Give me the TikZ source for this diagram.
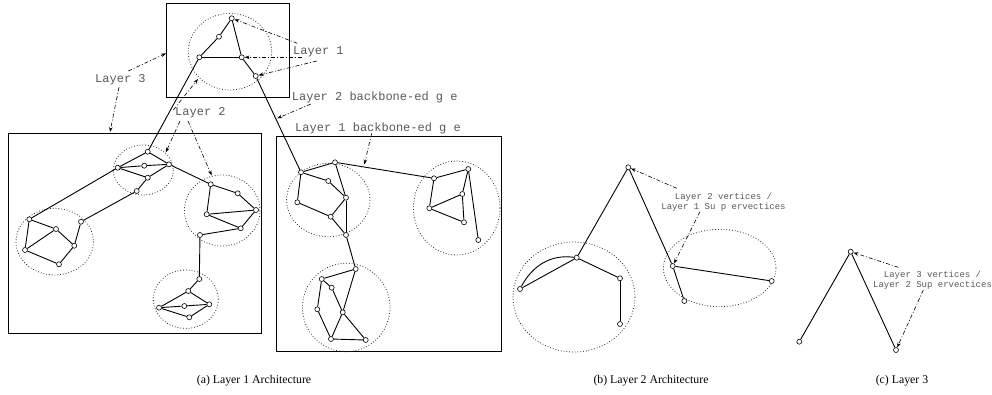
\documentclass[tikz,border=0pt]{standalone}
\usepackage{fontspec}
\setmainfont{Liberation Serif}
\setmonofont{Liberation Mono}
\usetikzlibrary{arrows.meta}
\begin{document}
\begin{tikzpicture}[x=1pt,y=-1pt,
  v/.style={circle,draw,fill=white,inner sep=0pt,minimum size=5pt,line width=0.6pt},
  e/.style={line width=0.9pt},
  hull/.style={draw=black!85,dotted,line width=0.8pt},
  frame/.style={draw,line width=0.8pt},
  note/.style={-{Stealth[length=5pt,width=3.5pt]},line width=0.6pt,
    dash pattern=on 4pt off 2pt on 1pt off 2pt},
  lbl/.style={font=\ttfamily\fontsize{12}{13}\selectfont,text=black!65,inner sep=0pt,anchor=west},
  vlbl/.style={font=\ttfamily\fontsize{9}{9.6}\selectfont,text=black!65,inner sep=0pt,align=center},
  captext/.style={font=\fontsize{11.8}{13}\selectfont,inner sep=0pt}]
\useasboundingbox (0,0) rectangle (992,394);

% ---------- frames ----------
\draw[frame] (166.7,3.3) rectangle (289.3,97.3);
\draw[frame] (8.3,133.3) rectangle (261.7,333.3);
\draw[frame] (276.7,136.7) rectangle (501.7,351.7);

% ---------- cluster hulls ----------
\draw[hull] (230,51.7) ellipse [x radius=41.7, y radius=38.3];
\draw[hull] (143.3,170) ellipse [x radius=30, y radius=25];
\draw[hull] (54.7,241.7) ellipse [x radius=38.7, y radius=33.3];
\draw[hull] (222.2,210.5) ellipse [x radius=37.8, y radius=35.5];
\draw[hull] (185.8,299.2) ellipse [x radius=32.5, y radius=29.2];
\draw[hull] (328.3,200) ellipse [x radius=41.7, y radius=36.7];
\draw[hull] (456.7,208) ellipse [x radius=43.3, y radius=47];
\draw[hull] (346.2,307.5) ellipse [x radius=43.8, y radius=44.2];
\draw[hull] (574,297) ellipse [x radius=61, y radius=55];
\draw[hull] (719.7,268) ellipse [x radius=56.3, y radius=38.7];

% ---------- top (layer 3 supervertex) ----------
\node[v] (t1) at (231.7,18.3) {};
\node[v] (t2) at (219,36.7) {};
\node[v] (t3) at (199.3,57.3) {};
\node[v] (t4) at (241.7,57.3) {};
\node[v] (t5) at (255.7,76) {};

% ---------- left frame ----------
\node[v] (p1) at (147.7,151.7) {};
\node[v] (p2) at (117.7,167.7) {};
\node[v] (p3) at (144.3,165.7) {};
\node[v] (p4) at (169,164.3) {};
\node[v] (p5) at (147.7,177.7) {};
\node[v] (p6) at (136.7,191) {};

\node[v] (q1) at (29.3,219.3) {};
\node[v] (q2) at (56,229) {};
\node[v] (q3) at (81,221.7) {};
\node[v] (q4) at (74.3,245.7) {};
\node[v] (q5) at (25,250) {};
\node[v] (q6) at (59,264.3) {};

\node[v] (r1) at (210.7,184.3) {};
\node[v] (r2) at (237.7,193.3) {};
\node[v] (r3) at (256,210) {};
\node[v] (r4) at (206.7,214.3) {};
\node[v] (r5) at (240.7,228.3) {};
\node[v] (r6) at (200,235) {};

\node[v] (s1) at (199.3,279) {};
\node[v] (s2) at (188.3,291) {};
\node[v] (s3) at (159,307.7) {};
\node[v] (s4) at (184.3,306) {};
\node[v] (s5) at (209.3,304.3) {};
\node[v] (s6) at (189.3,317.3) {};

% ---------- right frame ----------
\node[v] (a1) at (301,172.3) {};
\node[v] (a2) at (335,162.3) {};
\node[v] (a3) at (328.3,181) {};
\node[v] (a4) at (346,197.7) {};
\node[v] (a5) at (297.3,202.3) {};
\node[v] (a6) at (330.7,216.7) {};
\node[v] (a7) at (346,235) {};

\node[v] (b1) at (434,178.3) {};
\node[v] (b2) at (468.3,169) {};
\node[v] (b3) at (462.3,194) {};
\node[v] (b4) at (429.3,208.3) {};
\node[v] (b5) at (464,222.3) {};
\node[v] (b6) at (478.3,240) {};

\node[v] (c1) at (355.7,269) {};
\node[v] (c2) at (321.7,279) {};
\node[v] (c3) at (331.7,287.7) {};
\node[v] (c4) at (317.3,309.3) {};
\node[v] (c5) at (342.7,312.3) {};
\node[v] (c6) at (331,339) {};
\node[v] (c7) at (365.7,340) {};

% ---------- layer 2 ----------
\node[v] (m0) at (628.3,167.3) {};
\node[v] (m1) at (576.7,257.7) {};
\node[v] (m2) at (520,289) {};
\node[v] (m3) at (620,278.3) {};
\node[v] (m4) at (620,324) {};
\node[v] (n1) at (672.7,266) {};
\node[v] (n2) at (771.7,281) {};
\node[v] (n3) at (684.3,301) {};

% ---------- layer 3 ----------
\node[v] (k0) at (850.7,251.7) {};
\node[v] (k1) at (799.3,341.7) {};
\node[v] (k2) at (896,350) {};

% ---------- edges ----------
\foreach \a/\b in {t1/t2,t2/t3,t3/t4,t1/t4,t4/t5,t3/p1,t5/a1,
  p1/p2,p1/p4,p2/p3,p3/p4,p2/p5,p5/p4,p5/p6,p2/q1,p6/q3,p4/r1,
  q1/q2,q1/q5,q5/q2,q2/q4,q3/q4,q4/q6,q5/q6,
  r1/r2,r2/r3,r1/r4,r4/r3,r4/r5,r5/r3,r6/r5,r6/s1,
  s1/s2,s2/s3,s2/s5,s3/s4,s4/s5,s3/s6,s6/s5,
  a1/a2,a1/a3,a3/a4,a2/a4,a4/a7,a4/a6,a1/a5,a5/a6,a6/a7,a2/b1,a7/c1,
  b1/b2,b1/b4,b2/b3,b3/b5,b4/b3,b4/b5,b2/b6,
  c1/c2,c2/c3,c2/c4,c3/c5,c5/c7,c1/c5,c5/c6,c4/c6,c6/c7,
  m0/m1,m1/m2,m1/m3,m3/m4,m0/n1,n1/n3,n1/n2,
  k0/k1,k0/k2}
  \draw[e] (\a) -- (\b);
\draw[e] (m2) to[out=62,in=172] (m1);

% ---------- labels ----------
\node[lbl] (l1) at (293,52) {Layer 1};
\node[lbl] (l3) at (95,79.3) {Layer 3};
\node[lbl] (l2) at (175,112.7) {Layer 2};
\node[lbl] (bb2) at (291.7,97.3) {Layer 2 backbone-ed g e};
\node[lbl] (bb1) at (295,128.3) {Layer 1 backbone-ed g e};
\node[vlbl] (vl2) at (723.5,202) {Layer 2 vertices /\\Layer 1 Su p ervectices};
\node[vlbl] (vl3) at (932.5,280.2) {Layer 3 vertices /\\Layer 2 Sup ervectices};

% arrow start points near the labels and free targets on frames/hulls
\coordinate (l1a) at (297.3,43.3);
\coordinate (l1b) at (301.7,57.3);
\coordinate (l1c) at (316.7,61);
\coordinate (l3a) at (128.3,71);
\coordinate (l3b) at (119,87.3);
\coordinate (topframe) at (166,53.3);
\coordinate (leftframe) at (110,132);
\coordinate (l2a) at (173.3,110);
\coordinate (l2b) at (180,121);
\coordinate (l2c) at (188,121);
\coordinate (hull0) at (198,79);
\coordinate (hull1) at (165.7,152.5);
\coordinate (hull3) at (211.7,175.5);
\coordinate (bb2a) at (310.7,104);
\coordinate (bb2b) at (277.3,118.3);
\coordinate (bb1a) at (371.7,133.3);
\coordinate (bb1b) at (364.3,164.5);
\coordinate (vl2a) at (676.7,188.3);
\coordinate (vl2b) at (700,211.7);
\coordinate (vl3a) at (898.3,267.3);
\coordinate (vl3b) at (923.3,290);

\draw[note] (l1a) -- (t1);
\draw[note] (l1b) -- (t4);
\draw[note] (l1c) -- (t5);
\draw[note] (l3a) -- (topframe);
\draw[note] (l3b) -- (leftframe);
\draw[note] (l2a) -- (hull0);
\draw[note] (l2b) -- (hull1);
\draw[note] (l2c) -- (hull3);
\draw[note] (bb2a) -- (bb2b);
\draw[note] (bb1a) -- (bb1b);
\draw[note] (vl2a) -- (m0);
\draw[note] (vl2b) -- (n1);
\draw[note] (vl3a) -- (k0);
\draw[note] (vl3b) -- (k2);

% ---------- captions ----------
\node[captext] (ca) at (254,381) {(a) Layer 1 Architecture};
\node[captext] (cb) at (651,381) {(b) Layer 2 Architecture};
\node[captext] (cc) at (902,381) {(c) Layer 3};
\end{tikzpicture}
\end{document}
